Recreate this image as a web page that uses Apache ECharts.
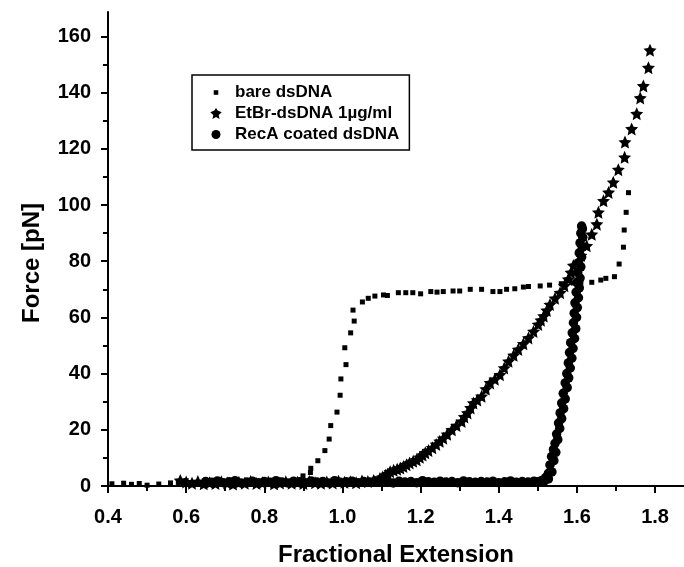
<!DOCTYPE html>
<html>
<head>
<meta charset="utf-8">
<script src="https://cdn.jsdelivr.net/npm/echarts@6/dist/echarts.min.js"></script>
<style>html,body{margin:0;padding:0;background:#fff}#c{width:684px;height:567px}</style>
</head>
<body>
<div id="c"></div>
<script>
// ---- data ----
const seriesNames = ['bare dsDNA', 'EtBr-dsDNA 1\u00b5g/ml', 'RecA coated dsDNA'];

const bareExt = [0.41,0.44,0.46,0.48,0.50,0.53,0.56,0.58,0.60,0.61,0.63,0.65,0.67,0.69,0.71,0.73,0.75,0.77,0.79,0.81,0.83,0.85,0.87,0.88,
  0.899,0.918,0.919,0.937,0.955,0.966,0.970,0.986,0.994,0.996,1.009,1.006,1.021,1.030,1.027,1.051,1.066,1.083,1.105,1.115,1.143,1.162,1.180,1.200,
  1.226,1.242,1.258,1.283,1.300,1.327,1.356,1.385,1.403,1.420,1.441,1.463,1.476,1.506,1.530,1.560,1.590,1.610,
  1.638,1.661,1.674,1.696,1.708,1.719,1.721,1.726,1.732];
const bareForce = [0.8,1.0,0.6,0.9,0.3,0.7,1.1,1.3,1.9,1.2,1.0,1.4,1.2,1.5,1.1,1.3,1.6,1.2,1.4,1.0,1.5,1.3,1.8,1.6,
  3.6,4.8,6.3,9.0,12.6,16.7,21.5,26.3,32.3,38.1,43.2,49.2,54.5,58.7,62.6,65.5,66.8,67.6,68.0,67.8,68.8,68.8,68.8,68.4,
  69.2,69.0,69.2,69.4,69.4,70.0,70.0,69.2,69.2,70.0,70.2,70.8,71.0,71.2,71.5,72.0,72.3,72.5,
  72.5,73.3,73.9,74.5,79.0,85.0,91.1,97.4,104.4];

const etbrExt = [0.585,0.600,0.615,0.630,0.645,0.660,0.675,0.690,0.705,0.720,0.735,0.750,0.765,0.780,0.795,0.810,0.825,0.840,0.855,0.870,
  0.885,0.900,0.915,0.930,0.945,0.960,0.975,0.990,1.005,1.020,1.035,1.050,1.065,1.080,
  1.096,1.103,1.110,1.116,1.122,1.131,1.140,1.148,1.156,1.164,1.172,1.181,1.190,1.198,1.205,1.212,1.220,1.230,1.240,1.249,
  1.258,1.268,1.280,1.292,1.305,1.312,1.320,1.328,1.335,1.345,1.356,1.367,1.378,1.390,1.403,1.414,1.425,1.438,1.450,1.463,
  1.476,1.489,1.501,1.508,1.515,1.523,1.531,1.544,1.557,1.568,1.578,1.585,1.591,1.610,1.625,1.638,1.651,1.655,1.668,1.681,
  1.693,1.706,1.722,1.723,1.740,1.753,1.762,1.770,1.783,1.787];
const etbrForce = [2.0,1.4,1.0,1.6,0.8,1.2,0.9,1.5,1.1,0.7,1.3,1.0,1.6,0.9,1.2,1.4,0.8,1.1,1.5,1.0,
  1.3,0.9,1.6,1.2,1.0,1.4,1.1,1.7,1.3,1.5,1.2,1.8,1.6,2.0,
  2.7,3.2,3.8,4.3,5.1,5.6,6.0,6.4,6.9,7.6,8.2,8.8,9.3,10.2,11.0,11.8,12.6,13.6,14.8,15.9,
  17.0,18.4,20.0,21.5,23.0,24.6,26.0,27.8,29.5,30.6,31.9,34.5,36.7,38.0,39.6,42.0,44.4,46.5,48.6,50.6,
  52.7,55.0,57.5,59.0,60.5,62.5,64.6,66.8,68.8,71.3,73.6,76.0,78.5,82.0,85.5,89.6,93.2,97.4,101.5,104.5,
  108.1,112.6,117.0,122.4,127.1,132.5,138.1,142.4,148.9,155.1];

const recaExt = [0.650,0.665,0.680,0.695,0.710,0.725,0.740,0.755,0.770,0.785,0.800,0.815,0.830,0.845,0.860,0.875,0.890,0.905,0.920,
  0.935,0.950,0.965,0.980,0.995,1.010,1.025,1.040,1.055,1.070,1.085,1.100,1.115,1.130,1.145,1.160,1.175,1.190,1.205,1.220,
  1.235,1.250,1.265,1.280,1.295,1.310,1.325,1.340,1.355,1.370,1.385,1.400,1.415,1.430,1.445,1.460,1.475,1.490,
  1.500,1.510,1.520,1.527,1.531,1.535,1.540,1.544,1.548,1.553,1.557,1.561,1.565,1.570,1.574,1.578,1.581,1.584,1.588,1.591,
  1.593,1.595,1.598,1.600,1.602,1.604,1.606,1.608,1.610,1.612,
  1.515,1.527,1.536,1.541,1.546,1.551,1.556,1.561,1.566,1.570,1.575,1.579,1.583,1.587,1.590,1.594,1.597,1.599,1.601,1.604,
  1.606,1.608,1.610,1.612,1.614,1.615,1.614];
const recaForce = [1.6,1.3,1.8,1.2,1.5,1.9,1.1,1.4,1.7,1.2,1.6,1.3,1.9,1.4,1.1,1.7,1.5,1.2,1.8,
  1.4,1.6,1.1,1.9,1.3,1.5,1.7,1.2,1.6,1.4,1.8,1.3,1.5,1.1,1.7,1.4,1.6,1.2,1.9,1.5,
  1.3,1.7,1.4,1.6,1.2,1.8,1.5,1.3,1.6,1.4,1.7,1.2,1.5,1.8,1.3,1.6,1.4,1.7,
  1.5,2.0,3.0,4.5,7.5,10.5,13.0,15.2,18.5,22.4,26.0,29.5,33.0,36.7,40.0,43.8,47.5,51.0,54.5,58.1,
  61.5,65.2,69.0,72.4,76.0,79.5,83.0,86.5,90.0,92.5,
  1.5,2.5,5.0,9.0,12.0,16.5,20.5,24.0,27.5,31.0,35.0,38.5,42.0,45.5,49.0,52.5,56.0,60.0,63.5,67.0,
  70.5,74.0,78.0,81.5,85.0,88.5,91.5];

const xMajorTicks = [0.4,0.6,0.8,1.0,1.2,1.4,1.6,1.8];
const xMinorTicks = [0.5,0.7,0.9,1.1,1.3,1.5,1.7];
const yMajorTicks = [0,20,40,60,80,100,120,140,160];
const yMinorTicks = [10,30,50,70,90,110,130,150];

// ---- chart ----
const FONT = 'Liberation Sans, Arial, sans-serif';
const STAR = 'path://M50,0 L64.1,30.6 L97.6,34.5 L72.8,57.4 L79.4,90.5 L50,74 L20.6,90.5 L27.2,57.4 L2.4,34.5 L35.9,30.6 Z';
const STAR_ICON = 'path://M0,0 M280,120 M140,6 L156.9,29.3 L197.1,47.4 L167.4,74.9 L175.3,114.6 L140,94.8 L104.7,114.6 L112.6,74.9 L82.9,47.4 L123.1,29.3 Z';
const zip = (a, b) => a.map((v, i) => [v, b[i]]);

const chart = echarts.init(document.getElementById('c'), null, {renderer: 'canvas'});
const axisLineStyle = {color: '#000', width: 2};
const markStyle = {color: '#000', opacity: 1, borderWidth: 0};
const option = {
  animation: false,
  backgroundColor: '#fff',
  grid: {left: 108, right: 0, top: 12, bottom: 81, containLabel: false, outerBoundsMode: 'none'},
  legend: {
    orient: 'vertical', left: 192, top: 75,
    borderColor: '#000', borderWidth: 1.5,
    padding: [9, 10, 7, 10],
    itemWidth: 28, itemHeight: 12, itemGap: 4,
    textStyle: {fontFamily: FONT, fontSize: 17, fontWeight: 'bold', color: '#000', lineHeight: 17},
    itemStyle: {opacity: 1},
    data: [
      {name: seriesNames[0], icon: 'path://M0,0 M28,12 M11.7,3.7 L16.3,3.7 L16.3,8.3 L11.7,8.3 Z'},
      {name: seriesNames[1], icon: STAR_ICON},
      {name: seriesNames[2], icon: 'path://M0,0 M28,12 M18.5,6 A4.5,4.5 0 1 1 9.5,6 A4.5,4.5 0 1 1 18.5,6 Z'}
    ]
  },
  xAxis: [
    {type: 'value', min: 0.4, max: 1.874, position: 'bottom',
     name: 'Fractional Extension', nameLocation: 'middle', nameGap: 57,
     nameTextStyle: {fontFamily: FONT, fontSize: 24, fontWeight: 'bold', color: '#000'},
     axisLine: {lineStyle: axisLineStyle},
     axisTick: {customValues: xMajorTicks, length: 7, lineStyle: {color: '#000', width: 2}},
     axisLabel: {customValues: xMajorTicks, margin: 21, formatter: v => v.toFixed(1),
       fontFamily: FONT, fontSize: 20, fontWeight: 'bold', color: '#000'},
     splitLine: {show: false}},
    {type: 'value', min: 0.4, max: 1.874, position: 'bottom',
     axisLine: {show: false},
     axisTick: {customValues: xMinorTicks, length: 5, lineStyle: {color: '#000', width: 2}},
     axisLabel: {show: false}, splitLine: {show: false}}
  ],
  yAxis: [
    {type: 'value', min: 0, max: 168.7, position: 'left',
     name: 'Force [pN]', nameLocation: 'middle', nameGap: 64,
     nameTextStyle: {fontFamily: FONT, fontSize: 24, fontWeight: 'bold', color: '#000', padding: [0, 28, 0, 0]},
     axisLine: {show: true, lineStyle: axisLineStyle},
     axisTick: {show: true, customValues: yMajorTicks, length: 7, lineStyle: {color: '#000', width: 2}},
     axisLabel: {customValues: yMajorTicks, margin: 17,
       fontFamily: FONT, fontSize: 20, fontWeight: 'bold', color: '#000'},
     splitLine: {show: false}},
    {type: 'value', min: 0, max: 168.7, position: 'left',
     axisLine: {show: false},
     axisTick: {show: true, customValues: yMinorTicks, length: 5, lineStyle: {color: '#000', width: 2}},
     axisLabel: {show: false}, splitLine: {show: false}}
  ],
  series: [
    {name: seriesNames[0], type: 'scatter', symbol: 'rect', symbolSize: 5, clip: false,
     itemStyle: markStyle, data: zip(bareExt, bareForce)},
    {name: seriesNames[1], type: 'scatter', symbol: STAR, symbolSize: 13, clip: false,
     itemStyle: markStyle, data: zip(etbrExt, etbrForce)},
    {name: seriesNames[2], type: 'scatter', symbol: 'circle', symbolSize: 9.5, clip: false,
     itemStyle: markStyle, data: zip(recaExt, recaForce)}
  ]
};
chart.setOption(option);
</script>
</body>
</html>
